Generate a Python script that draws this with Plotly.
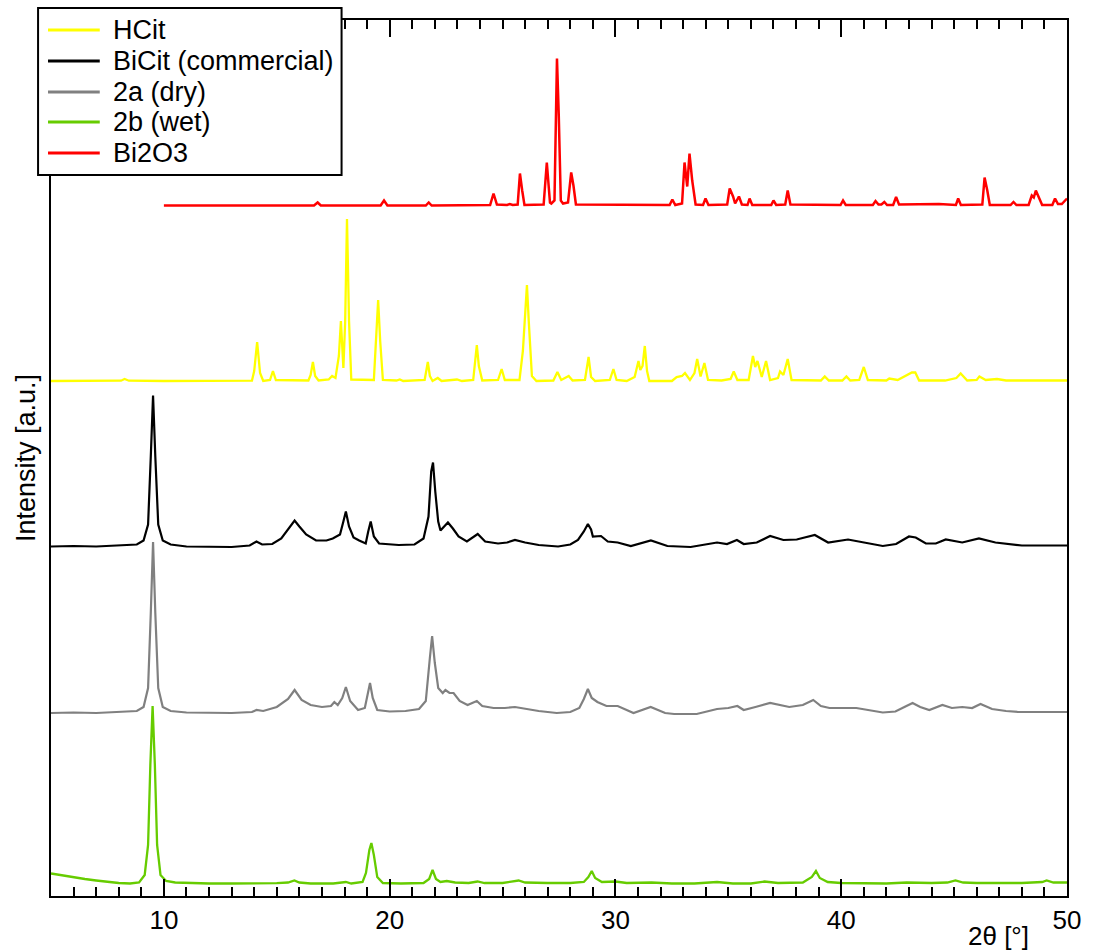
import plotly.graph_objects as go

# ---------------- data (2theta in degrees, intensity in a.u. above each trace's own baseline) -------------
hcit_x = [5.0, 7.5, 8.1, 8.26, 8.45, 10.0, 12.0, 13.9, 14.0, 14.13, 14.26, 14.4, 14.7, 14.83, 14.96,
          16.4, 16.5, 16.6, 16.7, 16.85, 17.3, 17.45, 17.6, 17.75, 17.84, 17.95, 18.03, 18.11, 18.2, 18.3,
          19.3, 19.4, 19.49, 19.58, 19.7, 20.3, 20.45, 20.6, 21.55, 21.62, 21.69, 21.78, 21.9, 22.13, 22.3,
          22.98, 23.2, 23.7, 23.78, 23.86, 23.95, 24.1, 24.8, 24.96, 25.1, 25.75, 25.9, 25.99, 26.08, 26.16,
          26.3, 26.5, 27.25, 27.43, 27.6, 27.93, 28.1, 28.65, 28.73, 28.81, 28.92, 29.1, 29.75, 29.91, 30.05,
          30.5, 30.85, 31.02, 31.1, 31.2, 31.3, 31.4, 31.5, 32.5, 32.71, 32.95, 33.08, 33.3, 33.5, 33.62,
          33.77, 33.94, 34.1, 34.7, 35.1, 35.24, 35.4, 35.9, 36.09, 36.19, 36.29, 36.48, 36.67, 36.85, 37.2,
          37.29, 37.44, 37.63, 37.8, 39.1, 39.27, 39.45, 40.05, 40.23, 40.4, 40.8, 41.0, 41.18, 42.0, 42.13,
          42.5, 42.79, 43.0, 43.13, 43.28, 43.45, 44.6, 44.85, 45.1, 45.29, 45.45, 45.58, 46.0, 46.12, 46.4,
          46.9, 47.3, 48.5, 49.2, 50.0]
hcit_y = [0, 0, 0.3, 2, 0.3, 0, 0, 0.3, 10, 39, 8, 0, 1, 10, 1,
          0.5, 6, 19, 5, 0.5, 1.5, 5, 3, 25, 60, 13, 60, 162, 60, 1.5,
          1, 40, 81, 40, 1, 0.5, 1.5, 0, 1, 10, 19, 5, 0, 3, 0,
          1.5, 0, 1, 18, 36, 15, 0.5, 1, 12, 1, 1, 30, 65, 96, 60,
          5, 0, 0.5, 9, 1, 5, 0.5, 1, 12, 24, 4, 0, 1, 12, 1,
          0, 4, 20, 11, 15, 35, 10, 0, 0, 4, 5, 8, 1, 8, 22,
          4.5, 18, 1, 0.5, 2, 9.5, 1, 1, 25, 14, 20, 4, 20, 1, 3,
          9.5, 6, 22, 1, 0.5, 4.5, 0.5, 0.5, 4.5, 0.5, 1, 14, 1, 0.5, 2.5,
          1, 4.5, 7, 8.5, 8.5, 0.5, 0.5, 2, 3, 7.5, 3, 0.5, 1, 4.5, 1,
          2, 0.5, 0.5, 1, 0.5]

bicit_x = [5.0, 6.0, 7.0, 8.0, 8.8, 9.1, 9.3, 9.42, 9.52, 9.62, 9.75, 9.95, 10.3, 11.0, 12.0, 13.0,
           13.8, 14.1, 14.35, 14.8, 15.2, 15.55, 15.79, 16.0, 16.3, 16.74, 17.2, 17.48, 17.8, 17.95, 18.06,
           18.2, 18.4, 18.65, 18.94, 19.05, 19.16, 19.3, 19.53, 20.4, 21.1, 21.5, 21.72, 21.84, 21.92, 22.02,
           22.15, 22.25, 22.58, 22.8, 23.05, 23.42, 23.9, 24.23, 24.8, 25.2, 25.55, 26.0, 26.6, 27.46, 28.0,
           28.34, 28.6, 28.78, 28.92, 29.0, 29.36, 29.66, 30.1, 30.68, 31.2, 31.57, 32.3, 33.33, 34.5, 34.94,
           35.38, 35.68, 36.26, 36.85, 37.44, 38.03, 38.83, 39.42, 40.3, 40.96, 41.84, 42.43, 43.0, 43.3, 43.75,
           44.19, 44.63, 45.36, 46.1, 46.83, 48.0, 49.0, 50.0]
bicit_y = [0, 0.5, 0, 1, 2, 6, 22, 90, 151, 90, 22, 6, 2, 0, -0.5, -0.5,
           1, 5, 2, 2.5, 8, 19, 26, 20, 12, 6, 6, 8, 12, 25, 35,
           20, 9, 6, 3, 15, 25, 10, 3, 1.5, 2, 8, 30, 75, 84, 55,
           25, 16, 24, 18, 10, 5, 12.5, 5, 3, 4, 6.5, 4, 1.5, 0, 2,
           6.5, 15, 22.5, 17, 10, 10.5, 5, 4, 0.5, 4, 6, 0.5, -0.5, 4, 2.5,
           6.5, 2.5, 4, 10.5, 6.5, 7, 11.5, 4, 7, 4, 0.5, 2.5, 10, 9, 3,
           3, 7, 4, 8, 4, 1, 1, 1]

dry_x = [5.0, 6.0, 7.0, 8.0, 8.8, 9.1, 9.3, 9.42, 9.52, 9.62, 9.75, 9.95, 10.3, 11.0, 12.0, 13.0,
         13.9, 14.1, 14.4, 15.0, 15.5, 15.79, 16.1, 16.5, 17.0, 17.4, 17.55, 17.7, 17.9, 18.06, 18.25,
         18.6, 18.9, 19.05, 19.13, 19.25, 19.45, 20.0, 20.7, 21.3, 21.6, 21.78, 21.88, 22.0, 22.15, 22.35,
         22.47, 22.65, 22.83, 23.1, 23.45, 23.86, 24.1, 24.6, 25.1, 25.55, 26.0, 26.6, 27.4, 28.0, 28.4,
         28.6, 28.78, 28.95, 29.2, 29.6, 30.1, 30.8, 31.56, 32.2, 32.6, 33.6, 34.5, 35.0, 35.4, 35.68,
         36.2, 36.85, 37.7, 38.3, 38.76, 39.1, 39.48, 40.1, 40.67, 41.84, 42.4, 42.8, 43.16, 43.5, 43.9,
         44.48, 44.9, 45.36, 45.8, 46.17, 46.68, 47.3, 47.86, 49.0, 50.0]
dry_y = [0, 0.5, 0, 1, 2, 6, 25, 100, 171, 100, 25, 6, 2, 0.5, 0, 0,
         1, 3, 2, 6, 14, 23, 13, 8, 6, 7, 11, 8, 15, 26, 12,
         3, 5, 22, 30, 15, 3, 1.5, 2, 4, 12, 55, 77, 50, 25, 20,
         23, 20, 20, 12, 8, 12, 7, 5, 5, 6, 4, 2, 0, 1, 5,
         14, 24, 15, 11, 7, 7, 0, 6, 0, -1, -1, 4, 5, 7, 3,
         6, 10, 6, 8, 13, 7, 5, 5, 5, 0.5, 1.5, 6, 10, 6, 3,
         8, 5, 6, 5, 9, 4, 2, 1, 1, 1]

wet_x = [5.0, 5.5, 6.0, 6.5, 7.0, 7.5, 8.0, 8.5, 8.9, 9.15, 9.3, 9.4, 9.5, 9.6, 9.7, 9.85, 10.1, 10.5,
         11.0, 12.0, 13.0, 14.0, 15.0, 15.5, 15.78, 16.0, 16.5, 17.5, 18.06, 18.3, 18.8, 18.95, 19.1, 19.19,
         19.3, 19.45, 19.7, 20.5, 21.5, 21.75, 21.9, 22.05, 22.25, 22.53, 22.9, 23.5, 23.89, 24.2, 25.0,
         25.71, 26.0, 27.0, 28.0, 28.6, 28.8, 28.95, 29.1, 29.4, 30.0, 30.5, 31.6, 32.5, 33.5, 34.5, 35.2,
         36.0, 36.6, 37.2, 38.3, 38.7, 38.88, 39.05, 39.4, 40.0, 41.0, 42.0, 42.9, 44.0, 44.7, 45.06, 45.4,
         46.0, 47.0, 48.0, 48.9, 49.1, 49.4, 50.0]
wet_y = [11.5, 9.5, 7.8, 6, 4.5, 3.2, 2, 1.5, 2.5, 10, 40, 120, 179, 120, 40, 10, 4, 2.5,
         2, 1.5, 1.5, 1.5, 1.8, 2.5, 4.5, 2.5, 1.5, 1.5, 3, 1.5, 3, 12, 35, 42,
         30, 8, 2, 1.5, 2, 6, 15, 6, 3, 4, 2.5, 2, 3.5, 2, 2,
         4.5, 2.5, 2, 2, 3, 8, 14, 7, 3, 3.5, 2, 2.5, 1.5, 1.5, 3, 1.5,
         1.5, 3.5, 2, 2.5, 8, 14, 7, 3, 2, 1.5, 1.5, 2.5, 2, 2.5, 4.5, 2.5,
         2, 2, 2, 3, 4.5, 2.5, 2.5]

bi2o3_x = [10.0, 16.65, 16.81, 16.95, 19.6, 19.75, 19.9, 21.6, 21.73, 21.86, 24.45, 24.6, 24.75, 25.2,
           25.32, 25.45, 25.67, 25.77, 25.87, 25.97, 26.82, 26.96, 27.1, 27.16, 27.3, 27.41, 27.49, 27.58,
           27.68, 27.9, 28.04, 28.14, 28.25, 32.4, 32.52, 32.65, 32.95, 33.06, 33.18, 33.28, 33.4, 33.55,
           33.88, 33.99, 34.12, 34.95, 35.06, 35.21, 35.3, 35.47, 35.6, 35.85, 35.94, 36.06, 36.9, 37.0,
           37.12, 37.52, 37.63, 37.75, 39.97, 40.08, 40.2, 41.4, 41.52, 41.65, 41.78, 41.91, 42.03, 42.3,
           42.43, 42.56, 44.33, 45.08, 45.18, 45.3, 46.25, 46.35, 46.47, 46.58, 47.5, 47.63, 47.76, 48.3,
           48.44, 48.53, 48.62, 48.77, 48.9, 49.35, 49.47, 49.6, 49.77, 50.0]
bi2o3_y = [0, 0, 3, 0, 0, 5, 0, 0, 3, 0, 0.5, 12, 1, 0.5,
           1.5, 0.5, 1, 32, 15, 0.5, 1, 43, 3, 2, 5, 147, 90, 5,
           2, 3, 33, 20, 1, 0.5, 6, 0.5, 2, 43, 19, 52, 25, 1,
           0.5, 7, 0.5, 1, 17, 9, 2, 9, 1, 0.5, 7, 0.5, 0.5, 5,
           0.5, 1, 15, 1, 0.5, 5, 0.5, 0.5, 4.5, 1, 1, 3.5, 0.5, 0.5,
           8.5, 1, 1.5, 0.5, 7, 0.5, 1, 28, 15, 0.5, 0.5, 3.5, 0.5, 0.5,
           10, 8, 15, 7, 0.5, 0.5, 7, 1.5, 1.5, 7]

series_names = ["HCit", "BiCit (commercial)", "2a (dry)", "2b (wet)", "Bi2O3"]
series_offsets = [515, 349.5, 183, 11, 690.5]   # vertical stacking offsets (a.u.)
series_colors = ["#FFFF00", "#000000", "#808080", "#66CC00", "#FF0000"]
series_widths = [2.3, 2.2, 2.2, 2.3, 2.5]
series_x = [hcit_x, bicit_x, dry_x, wet_x, bi2o3_x]
series_y = [hcit_y, bicit_y, dry_y, wet_y, bi2o3_y]

x_major_ticks = [10, 20, 30, 40, 50]
x_mid_ticks = [5, 15, 25, 35, 45]

FONT = "Arial, Liberation Sans, sans-serif"

fig = go.Figure()
for name, off, col, lw, xs, ys in zip(series_names, series_offsets, series_colors, series_widths,
                                      series_x, series_y):
    fig.add_trace(go.Scatter(x=xs, y=[v + off for v in ys], mode="lines", name=name,
                             line=dict(color=col, width=lw), showlegend=False))

# plot-area pixel geometry
W, H = 1093, 951
L, R, T, B = 51, 21, 20, 55
pw, ph = W - L - R, H - T - B


def px(xp):
    return (xp - L) / pw


def py(yp):
    return (H - B - yp) / ph


fig.update_layout(
    width=W, height=H,
    margin=dict(l=L, r=R, t=T, b=B, pad=0),
    paper_bgcolor="white", plot_bgcolor="white",
    font=dict(family=FONT, color="black"),
    showlegend=False,
    xaxis=dict(range=[5, 50], tickvals=x_major_ticks, ticks="inside", ticklen=17, tickwidth=2,
               tickcolor="black", showline=True, linewidth=2, linecolor="black", mirror="ticks",
               showgrid=False, zeroline=False, tickfont=dict(size=26, family=FONT, color="black"),
               minor=dict(dtick=1, tick0=0, ticks="inside", ticklen=9, tickwidth=1.5,
                          tickcolor="black", showgrid=False)),
    xaxis2=dict(range=[5, 50], overlaying="x", anchor="y", tickvals=x_mid_ticks, ticks="inside",
                ticklen=13, tickwidth=1.5, tickcolor="black", showticklabels=False, showline=False,
                mirror="ticks", showgrid=False, zeroline=False),
    yaxis=dict(range=[0, 876], showline=True, linewidth=2, linecolor="black", mirror=True,
               ticks="", showticklabels=False, showgrid=False, zeroline=False,
               title=dict(text="Intensity [a.u.]", font=dict(size=27, family=FONT, color="black"),
                          standoff=6)),
)

# x-axis title placed at the right, like the reference
fig.add_annotation(x=px(1003), y=py(936), xref="paper", yref="paper", text="2θ [°]",
                   showarrow=False, xanchor="center", yanchor="middle",
                   font=dict(size=26, family=FONT, color="black"))

# legend box (drawn manually to match the long line samples)
fig.add_shape(type="rect", xref="paper", yref="paper", x0=px(38), x1=px(343), y0=py(175), y1=py(8),
              fillcolor="white", line=dict(color="black", width=2), layer="above")
row_y = [30, 61, 92, 122, 153]
for name, col, ry in zip(series_names, series_colors, row_y):
    fig.add_shape(type="line", xref="paper", yref="paper", x0=px(48), x1=px(100), y0=py(ry), y1=py(ry),
                  line=dict(color=col, width=3), layer="above")
    fig.add_annotation(x=px(111), y=py(ry), xref="paper", yref="paper", text=name, showarrow=False,
                       xanchor="left", yanchor="middle", font=dict(size=27, family=FONT, color="black"))

fig.write_html("out.html")
